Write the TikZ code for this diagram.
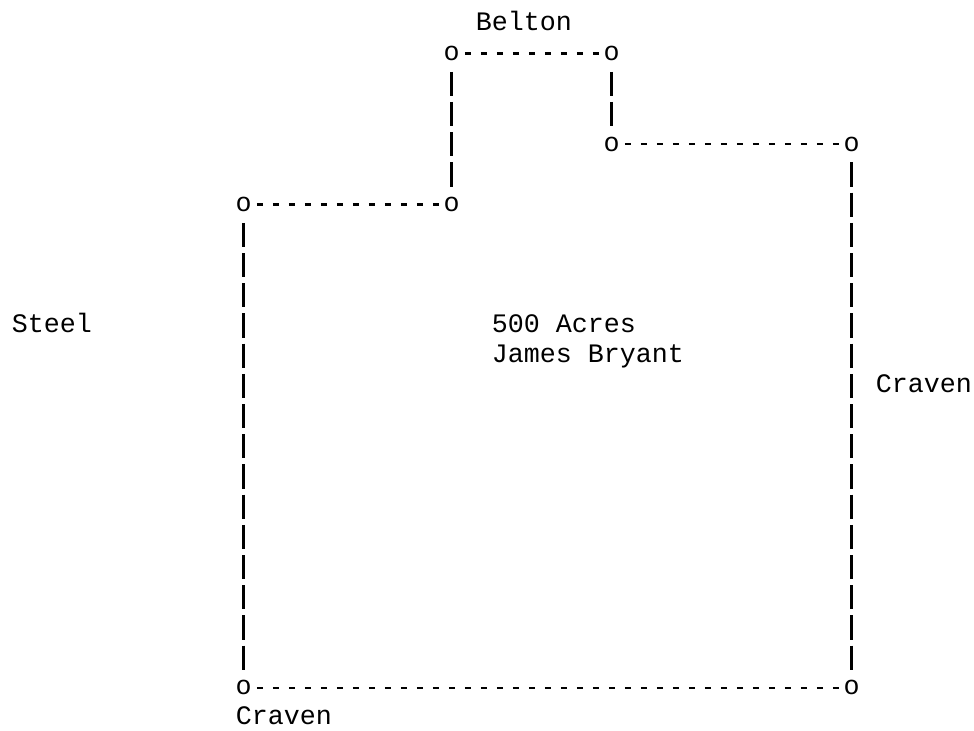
\documentclass[tikz,border=0pt]{standalone}
\usepackage{fontspec}
\newfontfamily\plotfont{Liberation Mono}
\usepackage{tikz}
\usetikzlibrary{positioning}
\tikzset{
    corner/.style={inner sep=0pt, minimum width=12pt, minimum height=22.65pt, font=\fontsize{20pt}{22.65pt}\plotfont},
    owner label/.style={inner sep=0pt, anchor=base west, font=\fontsize{20pt}{22.65pt}\plotfont},
    line row/.style={line width=1.6pt, dash pattern=on 4.5pt off 7.5pt, dash phase=8.25pt},
    line col/.style={line width=1.6pt, dash pattern=on 18.2pt off 4.45pt, dash phase=20.45pt}
}

\begin{document}
\begin{tikzpicture}[x=12pt, y=-22.65pt]
    % one unit = one character cell of the plat
    \useasboundingbox (-1.21875,-0.7715) rectangle (59.656,23.401);

    % Corners of the tract
    \node[corner] (tl) at (27,1) {o};
    \node[corner] (tr) at (37,1) {o};
    \node[corner] (ni) at (37,4) {o};
    \node[corner] (ne) at (52,4) {o};
    \node[corner] (wi) at (27,6) {o};
    \node[corner] (nw) at (14,6) {o};
    \node[corner] (sw) at (14,22) {o};
    \node[corner] (se) at (52,22) {o};

    % Boundary lines
    \draw[line row] (tl.east) -- (tr.west);
    \draw[line col] (tr.south) -- (ni.north);
    \draw[line row] (ni.east) -- (ne.west);
    \draw[line col] (ne.south) -- (se.north);
    \draw[line row] (sw.east) -- (se.west);
    \draw[line col] (nw.south) -- (sw.north);
    \draw[line row] (nw.east) -- (wi.west);
    \draw[line col] (tl.south) -- (wi.north);

    % Neighbours and tract
    \node[owner label] (belton) at (28.5,0.23) {Belton};
    \node[owner label] (steel) at (-0.5,10.23) {Steel};
    \node[owner label] (acres) at (29.5,10.23) {500 Acres};
    \node[owner label] (owner) at (29.5,11.23) {James Bryant};
    \node[owner label] (craven e) at (53.5,12.23) {Craven};
    \node[owner label] (craven s) at (13.5,23.23) {Craven};
\end{tikzpicture}
\end{document}
